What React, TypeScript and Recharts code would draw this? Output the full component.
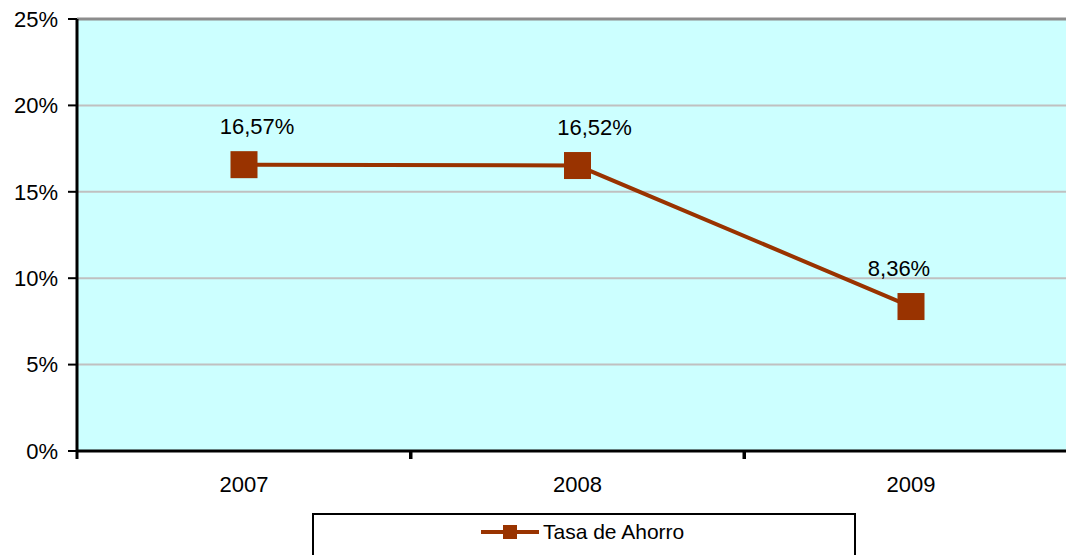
import React from "react";
import {
  LineChart,
  Line,
  XAxis,
  YAxis,
  CartesianGrid,
  ReferenceLine,
  LabelList,
} from "recharts";

const years = ["2007", "2008", "2009"];
const savingsRate = [16.57, 16.52, 8.36];
const yTicks = [0, 5, 10, 15, 20, 25];
const seriesName = "Tasa de Ahorro";

const data = years.map((year, i) => ({ year, rate: savingsRate[i] }));

const LINE_COLOR = "#993300";
const FONT = "Arial, 'Liberation Sans', sans-serif";
const BAND_HALF = 167;
// Excel nudges the data labels a bit sideways
const labelNudge = [13, 17, -12];

const fmt = (v: number) => v.toFixed(2).replace(".", ",") + "%";

function XTick(props: any) {
  const { x, y, payload } = props;
  return (
    <g>
      <line x1={x - BAND_HALF} x2={x - BAND_HALF} y1={y} y2={y + 8} stroke="#000" strokeWidth={3} />
      <line x1={x + BAND_HALF} x2={x + BAND_HALF} y1={y} y2={y + 8} stroke="#000" strokeWidth={3} />
      <text x={x} y={y + 41} textAnchor="middle" fontSize={22} fontFamily={FONT} fill="#000">
        {payload.value}
      </text>
    </g>
  );
}

function SquareDot(props: any) {
  const { cx, cy } = props;
  if (cx == null || cy == null) return null;
  return <rect x={cx - 13.5} y={cy - 13.5} width={27} height={27} fill={LINE_COLOR} />;
}

function PointLabel(props: any) {
  const { x, y, value, index } = props;
  return (
    <text
      x={x + (labelNudge[index] || 0)}
      y={y - 31}
      textAnchor="middle"
      fontSize={22}
      fontFamily={FONT}
      fill="#000"
    >
      {fmt(value)}
    </text>
  );
}

export default function App() {
  return (
    <div
      style={{
        position: "absolute",
        left: 0,
        top: 0,
        width: 1066,
        height: 555,
        overflow: "hidden",
        background: "#fff",
      }}
    >
      <LineChart
        width={1090}
        height={555}
        data={data}
        margin={{ top: 19, right: 12, bottom: 0, left: 0 }}
      >
        <CartesianGrid vertical={false} stroke="#c0c0c0" strokeWidth={2} fill="#ccffff" />
        <ReferenceLine y={25} stroke="#8c8c8c" strokeWidth={3} />
        <XAxis
          dataKey="year"
          padding={{ left: BAND_HALF, right: BAND_HALF }}
          height={104}
          tickSize={0}
          tickMargin={0}
          tickLine={false}
          axisLine={{ stroke: "#000", strokeWidth: 3 }}
          tick={<XTick />}
          interval={0}
        />
        <YAxis
          domain={[0, 25]}
          ticks={yTicks}
          width={77}
          tickFormatter={(v: number) => `${v}%`}
          tickSize={9}
          tickMargin={10}
          axisLine={{ stroke: "#000", strokeWidth: 3 }}
          tickLine={{ stroke: "#000", strokeWidth: 2 }}
          tick={{ fill: "#000", fontSize: 22, fontFamily: FONT }}
        />
        <Line
          type="linear"
          dataKey="rate"
          name={seriesName}
          stroke={LINE_COLOR}
          strokeWidth={4}
          dot={<SquareDot />}
          activeDot={false}
          isAnimationActive={false}
        >
          <LabelList dataKey="rate" content={<PointLabel />} />
        </Line>
      </LineChart>
      <div
        style={{
          position: "absolute",
          left: 312,
          top: 513,
          width: 544,
          height: 60,
          border: "2px solid #000",
          boxSizing: "border-box",
          background: "#fff",
        }}
      >
        <div
          style={{
            position: "absolute",
            left: 167,
            top: 5,
            display: "flex",
            alignItems: "center",
            fontFamily: FONT,
            fontSize: 21,
            color: "#000",
          }}
        >
          <svg width={62} height={20}>
            <line x1={0} x2={58} y1={10} y2={10} stroke={LINE_COLOR} strokeWidth={4} />
            <rect x={22} y={3} width={14} height={14} fill={LINE_COLOR} />
          </svg>
          <span>{seriesName}</span>
        </div>
      </div>
    </div>
  );
}
